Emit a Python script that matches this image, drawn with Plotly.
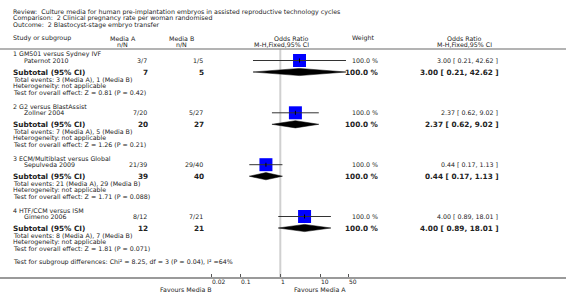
import math
import plotly.graph_objects as go

# ---------------- data ----------------
groups = ["1 GM501 versus Sydney IVF", "2 G2 versus BlastAssist",
          "3 ECM/Multiblast versus Global", "4 HTF/CCM versus ISM"]
studies = ["Paternot 2010", "Zollner 2004", "Sepulveda 2009", "Gimeno 2006"]
events_a = [3, 7, 21, 8]
total_a = [7, 20, 39, 12]
events_b = [1, 5, 29, 7]
total_b = [5, 27, 40, 21]
odds_ratio = [3.00, 2.37, 0.44, 4.00]
ci_low = [0.21, 0.62, 0.17, 0.89]
ci_high = [42.62, 9.02, 1.13, 18.01]
weights = [100.0, 100.0, 100.0, 100.0]
z_values = ["0.81", "1.26", "1.71", "1.81"]
p_values = ["0.42", "0.21", "0.088", "0.071"]
tick_vals = [0.02, 0.1, 1, 10, 50]
tick_text = ["0.02", "0.1", "1", "10", "50"]

# ---------------- layout geometry ----------------
W, H = 566, 301
PLOT_H = 277
group_y = [54, 106.3, 158.2, 210]
FONT = "DejaVu Sans"
TXT = "#222222"
SMALL = 6.3
BIG = 7.3

fig = go.Figure()
ann = []


def t(x, y, s, size=SMALL, anchor="left", bold=False, color=TXT):
    if bold:
        s = "<b>" + s + "</b>"
    ann.append(dict(x=x / W, y=(PLOT_H - y) / PLOT_H, xref="paper", yref="paper",
                    text=s, showarrow=False,
                    xanchor=anchor, yanchor="middle", borderpad=0,
                    font=dict(family=FONT, size=size, color=color)))


# header
t(11.5, 11.5, "Review:  Culture media for human pre-implantation embryos in assisted reproductive technology cycles")
t(11.5, 18.5, "Comparison:  2 Clinical pregnancy rate per woman randomised")
t(11.5, 25, "Outcome:  2 Blastocyst-stage embryo transfer")
t(11.5, 38.3, "Study or subgroup")
t(122.5, 38.3, "Media A", anchor="center")
t(122.5, 44, "n/N", anchor="center")
t(181, 38.3, "Media B", anchor="center")
t(181, 44, "n/N", anchor="center")
t(310, 38.3, "Odds Ratio", anchor="right")
t(310, 44, "M-H,Fixed,95% CI", anchor="right")
t(363, 38.3, "Weight", anchor="center")
t(464, 38.3, "Odds Ratio", anchor="center")
t(464, 44, "M-H,Fixed,95% CI", anchor="center")

sq_y, dia_y = [], []
for i, g in enumerate(groups):
    y0 = group_y[i]
    ys = y0 + 6.5
    ysub = y0 + 18
    sq_y.append(ys)
    dia_y.append(ysub)
    t(11.5, y0, g)
    t(23, ys, studies[i])
    t(148, ys, f"{events_a[i]}/{total_a[i]}", anchor="right")
    t(204, ys, f"{events_b[i]}/{total_b[i]}", anchor="right")
    t(379, ys, f"{weights[i]:.1f} %", anchor="right")
    t(499, ys, f"{odds_ratio[i]:.2f} [ {ci_low[i]:.2f}, {ci_high[i]:.2f} ]", anchor="right")
    t(12, ysub, "Subtotal (95% CI)", size=BIG, bold=True)
    t(148.5, ysub, f"{total_a[i]}", size=BIG, bold=True, anchor="right")
    t(204.5, ysub, f"{total_b[i]}", size=BIG, bold=True, anchor="right")
    t(380, ysub, f"{weights[i]:.1f} %", size=BIG, bold=True, anchor="right")
    t(499.5, ysub, f"{odds_ratio[i]:.2f} [ {ci_low[i]:.2f}, {ci_high[i]:.2f} ]", size=BIG, bold=True, anchor="right")
    t(11.5, y0 + 25.3, f"Total events: {events_a[i]} (Media A), {events_b[i]} (Media B)")
    t(11.5, y0 + 31.8, "Heterogeneity: not applicable")
    t(11.5, y0 + 38.2, f"Test for overall effect: Z = {z_values[i]} (P = {p_values[i]})")

t(11.5, 261.7, "Test for subgroup differences: Chi² = 8.25, df = 3 (P = 0.04), I² =64%")
t(213, 289.5, "Favours Media B", anchor="right")
t(293, 289.5, "Favours Media A", anchor="left")

# tick labels on the log axis (left-aligned at each tick)
for v, s in zip(tick_vals, tick_text):
    ann.append(dict(x=math.log10(v), y=(PLOT_H - 281.8) / PLOT_H, xref="x", yref="paper",
                    text=s, showarrow=False, xanchor="left", yanchor="middle",
                    xshift=-0.5, borderpad=0,
                    font=dict(family=FONT, size=6, color=TXT)))

# null line
fig.add_trace(go.Scatter(x=[1, 1], y=[49, 277], mode="lines",
                         line=dict(color="#d0d0d0", width=2), hoverinfo="skip"))

# squares
fig.add_trace(go.Scatter(x=odds_ratio, y=sq_y, mode="markers",
                         marker=dict(symbol="square", size=13, color="#0000ff",
                                     line=dict(width=0)), hoverinfo="skip"))

# CI lines and ticks
cx, cy, tx, ty = [], [], [], []
for i in range(len(groups)):
    cx += [ci_low[i], ci_high[i], None]
    cy += [sq_y[i], sq_y[i], None]
    tx += [odds_ratio[i], odds_ratio[i], None]
    ty += [sq_y[i] - 2, sq_y[i] + 2, None]
fig.add_trace(go.Scatter(x=cx, y=cy, mode="lines", line=dict(color="#333333", width=1),
                         hoverinfo="skip"))
fig.add_trace(go.Scatter(x=tx, y=ty, mode="lines", line=dict(color="#000000", width=1),
                         hoverinfo="skip"))

# diamonds
for i in range(len(groups)):
    h = 3.6
    fig.add_trace(go.Scatter(
        x=[ci_low[i], odds_ratio[i], ci_high[i], odds_ratio[i], ci_low[i]],
        y=[dia_y[i], dia_y[i] - h, dia_y[i], dia_y[i] + h, dia_y[i]],
        mode="lines", fill="toself", fillcolor="#000000",
        line=dict(color="#000000", width=0.5), hoverinfo="skip"))

# header separator
shapes = [dict(type="line", xref="paper", yref="y", x0=0, x1=1, y0=49, y1=49,
               line=dict(color="#9a9a9a", width=1.5))]

px_per_decade = 40.3
x_one = 280.3
fig.update_layout(
    width=W, height=H, margin=dict(l=0, r=0, t=0, b=H - PLOT_H),
    paper_bgcolor="white", plot_bgcolor="white", showlegend=False,
    annotations=ann, shapes=shapes,
    xaxis=dict(type="log", range=[-x_one / px_per_decade, (W - x_one) / px_per_decade],
               showgrid=False, zeroline=False, showline=True, linecolor="#9a9a9a",
               linewidth=2, ticks="inside", ticklen=3, tickcolor="#555555", tickwidth=1,
               tickvals=tick_vals, showticklabels=False, fixedrange=True),
    yaxis=dict(range=[PLOT_H, 0], visible=False, showgrid=False, zeroline=False,
               fixedrange=True),
)

fig.write_html("out.html", config={"displayModeBar": False},
               post_script="document.body.style.margin='0';document.body.style.overflow='hidden';")
